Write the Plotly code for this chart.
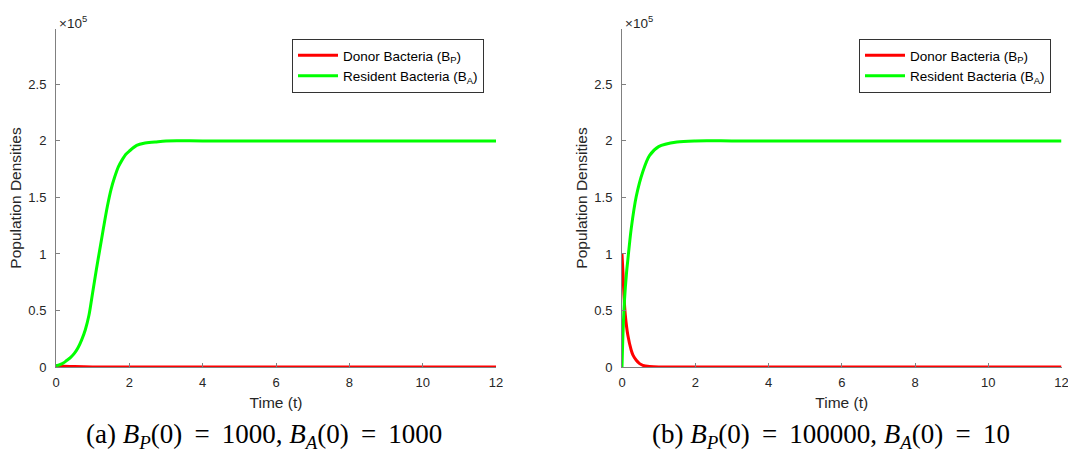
import plotly.graph_objects as go

# Panel (a): B_P(0) = 1000, B_A(0) = 1000
t_a_donor = [0, 0.2, 0.5, 1.0, 1.5, 2.0, 4, 8, 12]
donor_a = [1000, 700, 350, 100, 30, 0, 0, 0, 0]
t_a_res = [0, 0.1, 0.2, 0.3, 0.4, 0.5, 0.6, 0.7, 0.8, 0.9, 1.0, 1.1, 1.2, 1.3, 1.4,
           1.5, 1.6, 1.7, 1.8, 1.9, 2.0, 2.2, 2.4, 2.7, 3.0, 4, 6, 8, 10, 12]
res_a = [1000, 2000, 3500, 6000, 8500, 12000, 17000, 24000, 33000, 46000, 66000,
         86000, 105000, 124000, 142000, 157000, 168000, 177000, 183000, 188000, 191000,
         196000, 198000, 199000, 200000, 200000, 200000, 200000, 200000, 200000]

# Panel (b): B_P(0) = 100000, B_A(0) = 10
t_b_donor = [0, 0.027, 0.054, 0.09, 0.16, 0.25, 0.30, 0.39, 0.48, 0.57, 0.75, 1.0,
             2, 4, 8, 12]
donor_b = [100000, 83000, 63000, 46000, 28000, 15000, 10500, 6000, 3000, 1500, 500, 0,
           0, 0, 0, 0]
t_b_res = [0, 0.027, 0.07, 0.12, 0.16, 0.25, 0.39, 0.57, 0.75, 1.0, 1.5, 2.0,
           3, 4, 8, 12]
res_b = [10, 30000, 60000, 82000, 95000, 122000, 151000, 173000, 187000, 195000,
         199000, 200000, 200000, 200000, 200000, 200000]

x_ticks = [0, 2, 4, 6, 8, 10, 12]
y_ticks = [0, 50000, 100000, 150000, 200000, 250000]
y_tick_text = ["0", "0.5", "1", "1.5", "2", "2.5"]

donor_name = "Donor Bacteria (B<sub>P</sub>)"
res_name = "Resident Bacteria (B<sub>A</sub>)"
RED = "#ff0000"
GREEN = "#00ff00"
W, H = 1068, 453

fig = go.Figure()
for t, v, name, col, xa, ya, lg in [
    (t_a_donor, donor_a, donor_name, RED, "x", "y", "legend"),
    (t_a_res, res_a, res_name, GREEN, "x", "y", "legend"),
    (t_b_donor, donor_b, donor_name, RED, "x2", "y2", "legend2"),
    (t_b_res, res_b, res_name, GREEN, "x2", "y2", "legend2"),
]:
    fig.add_trace(go.Scatter(
        x=t, y=v, name=name, mode="lines",
        line=dict(color=col, width=3, shape="spline", smoothing=0.8),
        xaxis=xa, yaxis=ya, legend=lg, cliponaxis=False,
    ))

tick_font = dict(family="Liberation Sans, Arial, sans-serif", size=13, color="#262626")
title_font = dict(family="Liberation Sans, Arial, sans-serif", size=15.5, color="#262626")
ax_common = dict(
    showline=True, linecolor="#808080", linewidth=1, mirror=False,
    ticks="inside", ticklen=4, tickcolor="#808080", tickwidth=1,
    showgrid=False, zeroline=False, tickfont=tick_font, automargin=False,
    ticklabeloverflow="allow",
)

y_dom = [(H - 367) / H, (H - 29) / H]
fig.update_layout(
    width=W, height=H, margin=dict(l=0, r=0, t=0, b=0, autoexpand=False),
    paper_bgcolor="white", plot_bgcolor="white", showlegend=True,
    xaxis=dict(domain=[56 / W, 496 / W], range=[0, 12], tickvals=x_ticks,
               title=dict(text="Time (t)", font=title_font, standoff=8),
               ticklabelstandoff=3, anchor="y", **ax_common),
    yaxis=dict(domain=y_dom, range=[0, 299000], tickvals=y_ticks, ticktext=y_tick_text,
               title=dict(text="Population Densities", font=title_font, standoff=2),
               ticklabelstandoff=6, anchor="x", **ax_common),
    xaxis2=dict(domain=[622 / W, 1061.5 / W], range=[0, 12], tickvals=x_ticks,
                title=dict(text="Time (t)", font=title_font, standoff=8),
                ticklabelstandoff=3, anchor="y2", **ax_common),
    yaxis2=dict(domain=y_dom, range=[0, 299000], tickvals=y_ticks, ticktext=y_tick_text,
                title=dict(text="Population Densities", font=title_font, standoff=2),
                ticklabelstandoff=6, anchor="x2", **ax_common),
)

legend_style = dict(
    bgcolor="white", bordercolor="#333333", borderwidth=1,
    font=dict(family="Liberation Sans, Arial, sans-serif", size=13.5, color="#000000"),
    xanchor="right", yanchor="top", y=(H - 39) / H,
    tracegroupgap=0, itemwidth=40,
)
fig.update_layout(
    legend=dict(x=484 / W, **legend_style),
    legend2=dict(x=1051 / W, **legend_style),
)

# scale factor labels above each y axis
for x0 in (57, 623):
    fig.add_annotation(
        x=x0 / W, y=(H - 22) / H, xref="paper", yref="paper",
        text="×10<sup>5</sup>", showarrow=False, xanchor="left", yanchor="middle",
        font=dict(family="Liberation Sans, Arial, sans-serif", size=13.5, color="#262626"),
    )

# sub-figure captions
cap_font = dict(family="Liberation Serif, DejaVu Serif, serif", size=27, color="#000000")
EQ = "&#8201;=&#8201;"
captions = [
    (264, f"(a) <i>B</i><sub><i>P</i></sub>(0) {EQ} 1000, <i>B</i><sub><i>A</i></sub>(0) {EQ} 1000"),
    (831, f"(b) <i>B</i><sub><i>P</i></sub>(0) {EQ} 100000, <i>B</i><sub><i>A</i></sub>(0) {EQ} 10"),
]
for cx, txt in captions:
    fig.add_annotation(
        x=cx / W, y=(H - 436) / H, xref="paper", yref="paper", text=txt,
        showarrow=False, xanchor="center", yanchor="middle", font=cap_font,
    )

fig.write_html("out.html")
